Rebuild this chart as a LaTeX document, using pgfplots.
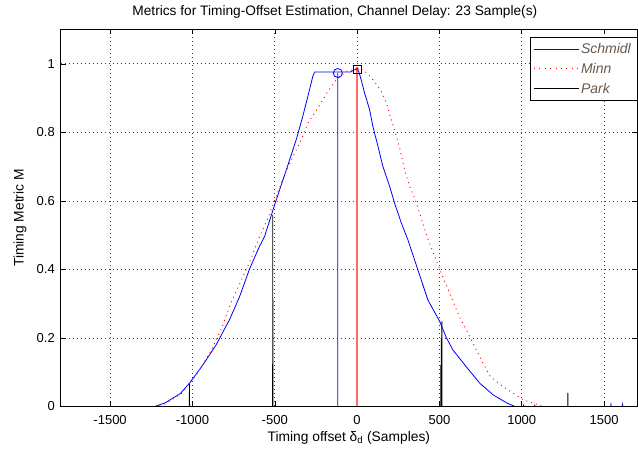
\documentclass[border=0pt]{standalone}
\usepackage{fontspec}
\setmainfont{Liberation Sans}
\usepackage{pgfplots}
\pgfplotsset{compat=1.18}
\definecolor{mblue}{RGB}{0,0,255}
\definecolor{mred}{RGB}{255,0,0}
\definecolor{lred}{RGB}{255,105,105}
\definecolor{legtxt}{RGB}{105,90,75}
\newcommand{\rd}{\rule[-0.5pt]{1pt}{1pt}\hspace{4.4pt}}
\begin{document}
\begin{tikzpicture}
\begin{axis}[
  at={(60.7pt,45.5pt)}, anchor=south west,
  scale only axis, width=576.3pt, height=377pt,
  xmin=-1800, xmax=1700, ymin=0, ymax=1.1,
  unbounded coords=jump,
  xtick={-1500,-1000,-500,0,500,1000,1500},
  xticklabels={{-1500},{-1000},{-500},{0},{500},{1000},{1500}},
  ytick={0,0.2,0.4,0.6,0.8,1},
  yticklabels={{0},{0.2},{0.4},{0.6},{0.8},{1}},
  tick align=inside, major tick length=5pt,
  tick style={black, line width=0.5pt},
  axis line style={black, line width=0.6pt},
  grid=major,
  major grid style={black!75, line width=0.6pt, dash pattern=on 1pt off 3pt},
  ticklabel style={font=\fontsize{13}{15}\selectfont},
  xticklabel style={anchor=base, yshift=-18.5pt},
  yticklabel style={xshift=-2.4pt},
  title={Metrics for Timing-Offset Estimation, Channel Delay: 23 Sample(s)},
  every axis title shift=0pt,
  title style={at={(axis description cs:0.5,1)}, anchor=base, yshift=13.5pt, xshift=-14pt, font=\fontsize{13.7}{16}\selectfont},
  xlabel={Timing offset δ\textsubscript{d} (Samples)},
  xlabel style={at={(axis description cs:0.5,0)}, anchor=base, yshift=-35pt, font=\fontsize{13.8}{15}\selectfont},
  ylabel={Timing Metric M},
  ylabel style={at={(axis description cs:-0.0642,0.5)}, anchor=base, font=\fontsize{13.8}{15}\selectfont},
  legend style={at={(axis description cs:1,1)}, anchor=north east, yshift=-8pt,
    fill=white, font=\itshape\fontsize{14}{16}\selectfont,
    row sep=4pt, inner xsep=4pt, inner ysep=4pt},
  legend cell align=left,
]
\addlegendimage{legend image code/.code={\node[inner sep=0pt, anchor=west] at (0pt,0pt) {\textcolor{mblue}{\rule[-0.4pt]{45pt}{0.8pt}}};}}
\addlegendentry{\textcolor{legtxt}{Schmidl}}
\addlegendimage{legend image code/.code={\node[inner sep=0pt, anchor=west] at (0pt,0pt) {\textcolor{mred}{\rd\rd\rd\rd\rd\rd\rd\rd\rule[-0.5pt]{1pt}{1pt}}};}}
\addlegendentry{\textcolor{legtxt}{Minn}}
\addlegendimage{legend image code/.code={\node[inner sep=0pt, anchor=west] at (0pt,0pt) {\textcolor{black}{\rule[-0.4pt]{45pt}{0.8pt}}};}}
\addlegendentry{\textcolor{legtxt}{Park}}
% Schmidl curve, then (after a break) its estimate line
\addplot[color=mblue, line width=0.8pt, forget plot] coordinates {
(-1228,0) (-1164,0.011) (-1073,0.038) (-1018,0.068) (-937,0.121) (-856,0.18)
(-775,0.253) (-714,0.32) (-654,0.40) (-593,0.467) (-562,0.496) (-491,0.603)
(-430,0.690) (-370,0.778) (-330,0.846) (-299,0.905) (-269,0.963) (-258,0.976)
(-40,0.976) (-20,0.982) (0,0.984) (10,0.978) (25,0.953) (46,0.914) (76,0.866)
(96,0.817) (127,0.759) (157,0.700) (198,0.642) (228,0.593) (269,0.535) (309,0.486)
(360,0.412) (430,0.311) (502,0.248) (542,0.201) (582,0.165) (663,0.116) (745,0.068)
(826,0.034) (907,0.011) (958,0) (1540,0) (1542,0.006) (1544,0) (1610,0) (1612,0.006)
(1614,0) (1700,0) (1700,nan) (-117,0) (-117,0.973)
};
\addplot[color=mblue, only marks, mark=o, mark size=4.5pt, mark options={line width=0.8pt}, forget plot] coordinates {(-117,0.973)};
% Minn
\addplot[color=mred, line width=0.9pt, dash pattern=on 1pt off 4pt, forget plot] coordinates {
(-1230,0) (-1167,0.007) (-1066,0.038) (-965,0.10) (-884,0.165) (-823,0.228)
(-763,0.306) (-702,0.369) (-651,0.423) (-601,0.486) (-542,0.55) (-491,0.613)
(-441,0.676) (-390,0.729) (-339,0.778) (-299,0.827) (-238,0.871) (-178,0.919)
(-127,0.953) (-66,0.978) (0,0.985) (46,0.978) (76,0.965) (106,0.948) (147,0.919)
(178,0.885) (208,0.837) (239,0.788) (259,0.754) (289,0.690) (319,0.642) (350,0.608)
(380,0.564) (421,0.50) (502,0.40) (583,0.306) (623,0.26) (674,0.214) (714,0.175)
(765,0.126) (805,0.09) (866,0.065) (927,0.045) (1008,0.02) (1069,0.01) (1130,0)
};
% Park
\addplot[color=black, line width=0.8pt, forget plot] coordinates {
(-1800,0) (-1019,0) (-1018,0.066) (-1017,0) (-513,0) (-512,0.559) (-511,0)
(508,0) (509,0.121) (510,0) (512,0.2) (513,0) (515,0.248) (516,0)
(1011,0) (1012,0.006) (1013,0) (1078,0) (1079,0.005) (1080,0)
(1279,0) (1280,0.04) (1281,0) (1700,0)
};
% Minn estimate line and marker
\addplot[color=lred, line width=1.3pt, forget plot] coordinates {(0,0) (0,0.985)};
\addplot[color=black, only marks, mark=square, mark size=4pt, mark options={line width=0.8pt}, forget plot] coordinates {(0,0.985)};
\addplot[color=mred, only marks, mark=*, mark size=1.5pt, forget plot] coordinates {(0,0.985)};
\end{axis}
\pgfresetboundingbox
\path (0,0) rectangle (638pt,452pt);
\end{tikzpicture}
\end{document}
